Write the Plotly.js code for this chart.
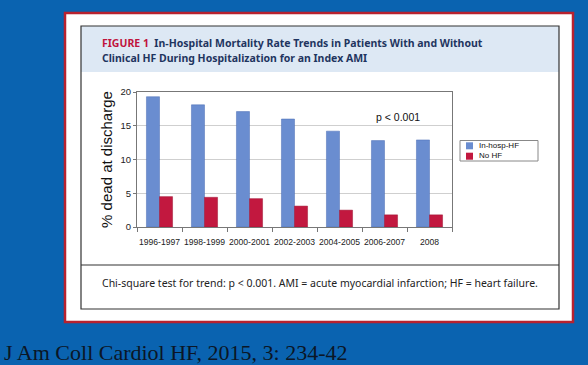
<!DOCTYPE html>
<html>
<head>
<meta charset="utf-8">
<script src="https://cdn.plot.ly/plotly-3.0.1.min.js"></script>
<style>html,body{margin:0;padding:0;background:#0a63b0;}#chart{width:588px;height:365px;}</style>
</head>
<body>
<div id="chart"></div>
<script>
// Data
var periods = ["1996-1997", "1998-1999", "2000-2001", "2002-2003", "2004-2005", "2006-2007", "2008"];
var inHospHF = [19.3, 18.1, 17.1, 16.0, 14.2, 12.8, 12.9];
var noHF = [4.5, 4.4, 4.2, 3.1, 2.5, 1.8, 1.8];
var seriesNames = ["In-hosp-HF", "No HF"];
var seriesColors = ["#6a8dd0", "#c2183f"];
var yTicks = [0, 5, 10, 15, 20];

// Layout geometry (pixels) -> paper coords
var L = 137, R = 452, T = 92, B = 227, W = 588, H = 365;
function px(x) { return (x - L) / (R - L); }
function py(y) { return (B - y) / (B - T); }

var traces = [
  { type: "bar", x: periods, y: inHospHF, name: seriesNames[0],
    marker: { color: seriesColors[0], line: { color: "#4a6cb4", width: 0.5 } } },
  { type: "bar", x: periods, y: noHF, name: seriesNames[1],
    marker: { color: seriesColors[1], line: { color: "#9e1232", width: 0.5 } } }
];

var shapes = [
  { type: "rect", xref: "paper", yref: "paper", layer: "below",
    x0: px(65), x1: px(573), y0: py(13), y1: py(322),
    fillcolor: "#ffffff", line: { color: "#b8222f", width: 2.5 } },
  { type: "rect", xref: "paper", yref: "paper", layer: "below",
    x0: px(81), x1: px(559), y0: py(26), y1: py(72),
    fillcolor: "#dde8f4", line: { width: 0 } },
  { type: "rect", xref: "paper", yref: "paper", layer: "below",
    x0: px(81), x1: px(559), y0: py(26), y1: py(309),
    line: { color: "#333", width: 1.2 } },
  { type: "line", xref: "paper", yref: "paper", layer: "below",
    x0: px(81), x1: px(559), y0: py(265), y1: py(265),
    line: { color: "#333", width: 1.2 } },
  // legend box
  { type: "rect", xref: "paper", yref: "paper",
    x0: px(460), x1: px(538), y0: py(140.5), y1: py(161),
    fillcolor: "#ffffff", line: { color: "#888", width: 1 } }
];

var annotations = [
  { xref: "paper", yref: "paper", x: px(100), y: py(43), xanchor: "left", yanchor: "middle",
    showarrow: false, align: "left",
    font: { family: "Noto Sans, Open Sans", size: 10.5, color: "#1f3560" },
    text: "<b><span style='color:#c0143c'>FIGURE 1</span>  In-Hospital Mortality Rate Trends in Patients With and Without</b>" },
  { xref: "paper", yref: "paper", x: px(100), y: py(58), xanchor: "left", yanchor: "middle",
    showarrow: false, align: "left",
    font: { family: "Noto Sans, Open Sans", size: 10.5, color: "#1f3560" },
    text: "<b>Clinical HF During Hospitalization for an Index AMI</b>" },
  { xref: "x", yref: "y", x: 5.3, y: 16.3, xanchor: "center", yanchor: "middle",
    showarrow: false,
    font: { family: "Liberation Sans, Arial", size: 10.5, color: "#111" },
    text: "p < 0.001" },
  { xref: "paper", yref: "paper", x: px(320), y: py(283), xanchor: "center", yanchor: "middle",
    showarrow: false,
    font: { family: "Noto Sans, Open Sans", size: 10.5, color: "#222" },
    text: "Chi-square test for trend: p < 0.001. AMI = acute myocardial infarction; HF = heart failure." },
  { xref: "paper", yref: "paper", x: px(2), y: py(352), xanchor: "left", yanchor: "middle",
    showarrow: false,
    font: { family: "Liberation Serif, Times New Roman", size: 22, color: "#0b1626" },
    text: "J Am Coll Cardiol HF, 2015, 3: 234-42" },
  // legend labels (one text block built from series names)
  { xref: "paper", yref: "paper", x: px(477), y: py(150.8), xanchor: "left", yanchor: "middle",
    showarrow: false, align: "left",
    font: { family: "Liberation Sans, Arial", size: 8, color: "#111" },
    text: seriesNames.join("<br>") }
];

// legend swatches
seriesNames.forEach(function (nm, i) {
  var yc = 145.8 + i * 10.4;
  shapes.push({ type: "rect", xref: "paper", yref: "paper",
    x0: px(466), x1: px(473), y0: py(yc - 3.5), y1: py(yc + 3.5),
    fillcolor: seriesColors[i], line: { width: 0 } });
});

var layout = {
  width: W, height: H,
  margin: { l: L, r: W - R, t: T, b: H - B, pad: 0 },
  paper_bgcolor: "#0a63b0",
  plot_bgcolor: "rgba(0,0,0,0)",
  barmode: "group",
  bargap: 0.42,
  bargroupgap: 0,
  showlegend: false,
  xaxis: {
    type: "category", tickangle: 0,
    showline: true, linecolor: "#777", linewidth: 1, mirror: true,
    ticks: "outside", tickson: "boundaries", ticklen: 4, tickcolor: "#777",
    ticklabelstandoff: 7,
    tickfont: { family: "Liberation Sans, Arial", size: 8.6, color: "#222" },
    showgrid: false, zeroline: false, fixedrange: true
  },
  yaxis: {
    range: [0, 20], tickvals: yTicks, ticktext: yTicks.map(String),
    showline: true, linecolor: "#777", linewidth: 1, mirror: true,
    ticks: "outside", ticklen: 3, tickcolor: "#777",
    tickfont: { family: "Liberation Sans, Arial", size: 9.5, color: "#222" },
    showgrid: true, gridcolor: "#cfcfcf", gridwidth: 1, zeroline: false,
    title: { text: "% dead at discharge", font: { family: "Liberation Sans, Arial", size: 15, color: "#111" }, standoff: 4 },
    fixedrange: true
  },
  shapes: shapes,
  annotations: annotations
};

Plotly.newPlot("chart", traces, layout, { displayModeBar: false, staticPlot: true });
</script>
</body>
</html>
